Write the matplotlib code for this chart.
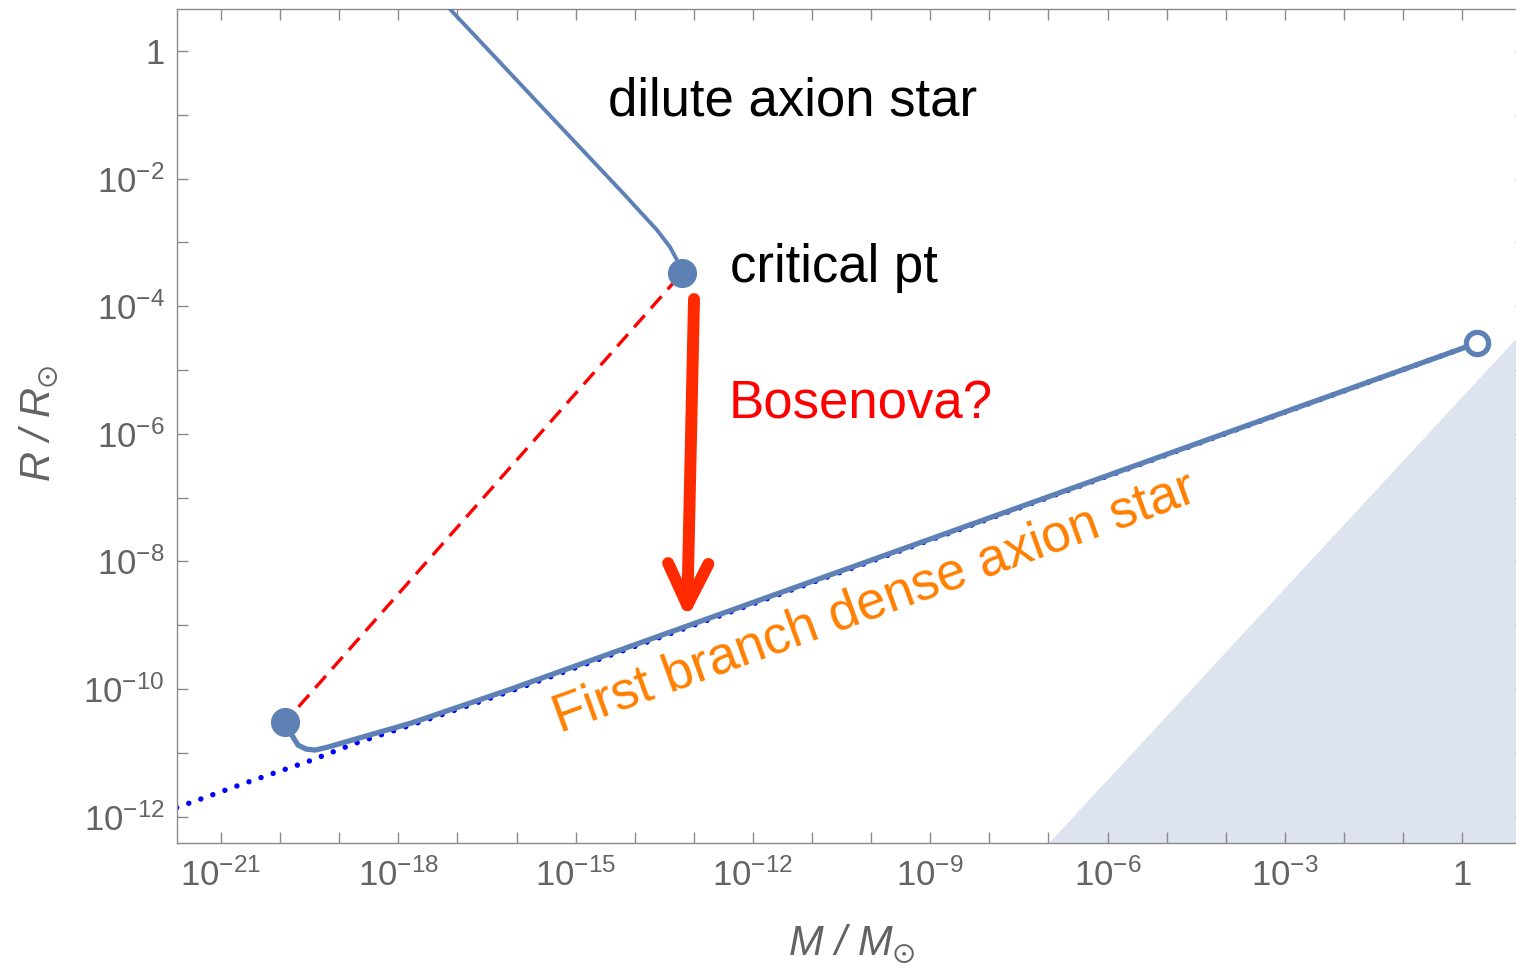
import numpy as np
import matplotlib
matplotlib.use("Agg")
import matplotlib.pyplot as plt
from matplotlib.ticker import NullFormatter

plt.rcParams['font.family'] = ['Liberation Sans', 'DejaVu Sans']
plt.rcParams['mathtext.fontset'] = 'custom'
plt.rcParams['mathtext.rm'] = 'Liberation Sans'
plt.rcParams['mathtext.it'] = 'Liberation Sans:italic'
plt.rcParams['mathtext.fallback'] = 'stixsans'

# ---------------- data (log10 values) ----------------
# dilute branch (M/Msun, R/Rsun)
dilute_logM = [-17.16, -15.602, -14.198, -13.623, -13.403, -13.267, -13.20]
dilute_logR = [0.69, -0.846, -2.226, -2.806, -3.072, -3.307, -3.480]

# first dense branch
dense_logM = [-19.917, -19.782, -19.697, -19.562, -19.409, -19.190, -18.902,
              -17.785, -16.144, -7.819, 0.252]
dense_logR = [-10.517, -10.752, -10.878, -10.940, -10.956, -10.909, -10.831,
              -10.533, -10.016, -7.257, -4.577]

# approximation (dotted)
approx_logM = [-21.75, -21.677, -20.594, -19.511, -18.716, -17.633, -16.144, 0.252]
approx_logR = [-11.857, -11.834, -11.473, -11.129, -10.846, -10.517, -10.047, -4.577]

# special points
crit_logM, crit_logR = -13.20, -3.480
low_logM, low_logR = -19.917, -10.517
end_logM, end_logR = 0.252, -4.577

# black hole region boundary
bh_logM = [-7.007, 1.08]
bh_logR = [-12.417, -4.33]

# arrow (Bosenova)
arrow_start = (-12.997, -3.887)
arrow_end = (-13.115, -8.90)

# ticks
x_tick_vals = [1e-21, 1e-18, 1e-15, 1e-12, 1e-9, 1e-6, 1e-3, 1]
x_tick_labels = [r'$10^{-21}$', r'$10^{-18}$', r'$10^{-15}$', r'$10^{-12}$',
                 r'$10^{-9}$', r'$10^{-6}$', r'$10^{-3}$', '1']
x_minor_vals = [10.0**k for k in range(-21, 1) if k % 3 != 0]
y_tick_vals = [1, 1e-2, 1e-4, 1e-6, 1e-8, 1e-10, 1e-12]
y_tick_labels = ['1', r'$10^{-2}$', r'$10^{-4}$', r'$10^{-6}$', r'$10^{-8}$',
                 r'$10^{-10}$', r'$10^{-12}$']
y_minor_vals = [10.0**k for k in range(-12, 1) if k % 2 != 0]

p = lambda a: 10.0 ** np.asarray(a)

# ---------------- figure ----------------
fig = plt.figure(figsize=(15.16, 9.72), dpi=100)
ax = fig.add_axes([0.11675, 0.1324, 0.88985, 0.85803])
ax.set_xscale('log')
ax.set_yscale('log')

blue = '#5E81B5'
gray_txt = '#636363'
gray_ln = '#8a8a8a'

ax.fill_between(p(bh_logM), p(bh_logR), 1e-14, color='#DDE3EF', lw=0, zorder=0.5)

ax.plot(p(approx_logM), p(approx_logR), color='#0000FF', lw=3.9,
        ls=(0, (0.01, 2.35)), dash_capstyle='round', zorder=2)
ax.plot(p([low_logM, crit_logM]), p([low_logR, crit_logR]), color='#FF0000',
        lw=2.4, ls=(1.5, (4.8, 2.8)), zorder=2.5)
ax.plot(p(dense_logM), p(dense_logR), color=blue, lw=3.8,
        solid_capstyle='round', solid_joinstyle='round', zorder=3)
ax.plot(p(dilute_logM), p(dilute_logR), color=blue, lw=2.8,
        solid_capstyle='round', solid_joinstyle='round', zorder=3)

ax.plot(p([crit_logM]), p([crit_logR]), 'o', ms=20, color=blue, zorder=4)
ax.plot(p([low_logM]), p([low_logR]), 'o', ms=20, color=blue, zorder=4)
ax.plot(p([end_logM]), p([end_logR]), 'o', ms=16, mfc='white', mec=blue,
        mew=3.8, zorder=4)

ax.annotate('', xy=p(arrow_end), xytext=p(arrow_start),
            arrowprops=dict(arrowstyle='->,head_length=3.0,head_width=1.45',
                            lw=8.6, color='#FF2A00', mutation_scale=10,
                            shrinkA=0, shrinkB=0, capstyle='round',
                            joinstyle='round'), zorder=5)

fs = 38
ax.text(10**-14.452, 10**-1.003, 'dilute axion star', fontsize=fs,
        color='black', ha='left', va='baseline')
ax.text(10**-12.387, 10**-3.621, 'critical pt', fontsize=fs,
        color='black', ha='left', va='baseline')
ax.text(10**-12.404, 10**-5.752, 'Bosenova?', fontsize=fs,
        color='#FF0000', ha='left', va='baseline')
ax.text(10**-9.87, 10**-8.86, 'First branch dense axion star', fontsize=fs,
        color='#FF7F00', ha='center', va='baseline', rotation=20,
        rotation_mode='anchor')

# ticks & spines
ax.set_xticks(x_tick_vals, x_tick_labels)
ax.set_xticks(x_minor_vals, minor=True)
ax.set_yticks(y_tick_vals, y_tick_labels)
ax.set_yticks(y_minor_vals, minor=True)
ax.xaxis.set_minor_formatter(NullFormatter())
ax.yaxis.set_minor_formatter(NullFormatter())
ax.tick_params(which='both', direction='in', length=7.9, width=1.0,
               color=gray_ln, top=True, right=True, labelcolor=gray_txt,
               labelsize=25)
ax.tick_params(axis='x', which='both', pad=11)
ax.tick_params(axis='y', which='both', pad=9)
for s in ax.spines.values():
    s.set_color(gray_ln)
    s.set_linewidth(1.0)

ax.set_xlim(10**-21.745, 10**1.08)
ax.set_ylim(10**-12.417, 10**0.654)

fig.text(851 / 1516, 1 - 955 / 972, r'$M$ / $M_{\odot}$', fontsize=30,
         fontstyle='italic', color=gray_txt, ha='center', va='baseline')
fig.text(50 / 1516, 1 - 423 / 972, r'$R$ / $R_{\odot}$', fontsize=30,
         fontstyle='italic', color=gray_txt, ha='center', va='baseline',
         rotation=90, rotation_mode='anchor')

fig.savefig('out.png', dpi=100)
